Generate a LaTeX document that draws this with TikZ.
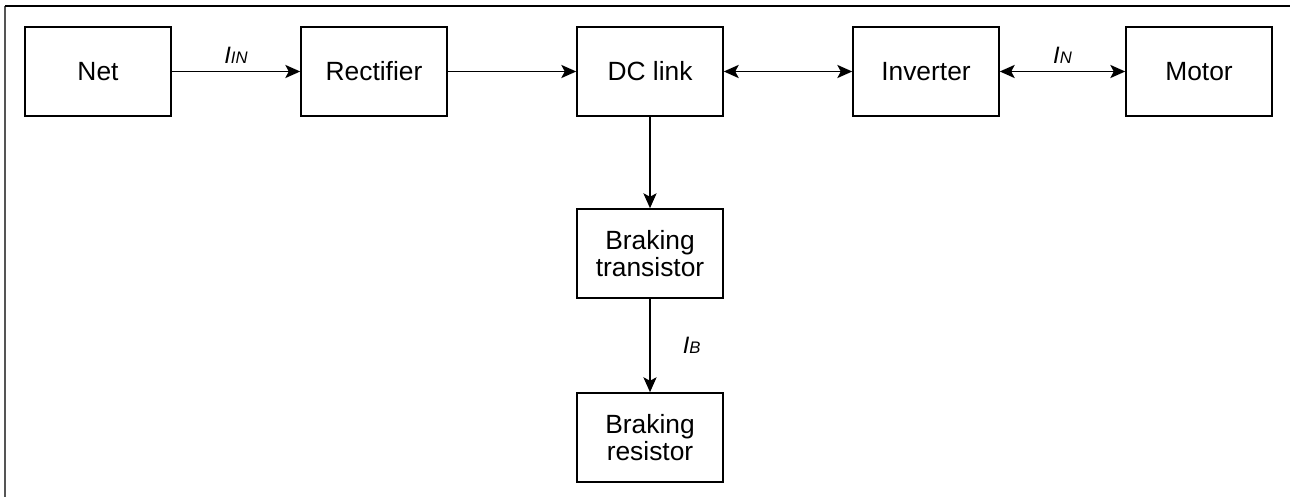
\documentclass[tikz,border=0pt]{standalone}
\usepackage{fontspec}
\setmainfont{Liberation Sans}
\usetikzlibrary{arrows.meta,positioning}
\newcommand{\blkfont}{\fontsize{15}{15.5}\selectfont}
\newcommand{\curr}[2]{\textit{#1}{\fontsize{9.5}{11}\selectfont\textit{#2}}}
\definecolor{framegray}{HTML}{555555}
\tikzset{
  >={Stealth[length=8.5pt,width=7.5pt,inset=2pt]},
  blk/.style ={rectangle, draw, line width=0.9pt, minimum width=2.92cm,
               minimum height=1.78cm, inner sep=0pt, font=\blkfont,
               align=center},
  con/.style ={->, draw, line width=0.9pt},
  bid/.style ={<->, draw, line width=0.9pt},
  lbl/.style ={font=\fontsize{13.5}{15}\selectfont, inner sep=0pt},
}
\begin{document}
\begin{tikzpicture}
\useasboundingbox (0,0) rectangle (25.86,-9.94);
% ---- outer frame (top and left edges only) --------------------------
\draw[framegray, line width=1pt] (0.1,-9.94) -- (0.1,-0.12);
\draw[line width=0.8pt] (0.1,-0.12) -- (25.8,-0.12);

% ---- main chain ------------------------------------------------------
\node[blk] (net)  at (1.96,-1.43)  {Net};
\node[blk] (rect) at (7.48,-1.43)  {Rectifier};
\node[blk] (dcl)  at (13.00,-1.43) {DC link};
\node[blk] (inv)  at (18.52,-1.43) {Inverter};
\node[blk] (mot)  at (23.98,-1.43) {Motor};

% ---- braking branch --------------------------------------------------
\node[blk] (btr)  at (13.00,-5.07) {Braking\\transistor};
\node[blk] (bres) at (13.00,-8.75) {Braking\\resistor};

\draw[con] (net)  -- node[lbl,above=4pt] {\curr{I}{IN}} (rect);
\draw[con] (rect) -- (dcl);
\draw[bid] (dcl)  -- (inv);
\draw[bid] (inv)  -- node[lbl,above=4pt] {\curr{I}{N}} (mot);
\draw[con] (dcl)  -- (btr);
\draw[con] (btr)  -- node[lbl,right=0.64cm] {\curr{I}{B}} (bres);
\end{tikzpicture}
\end{document}
